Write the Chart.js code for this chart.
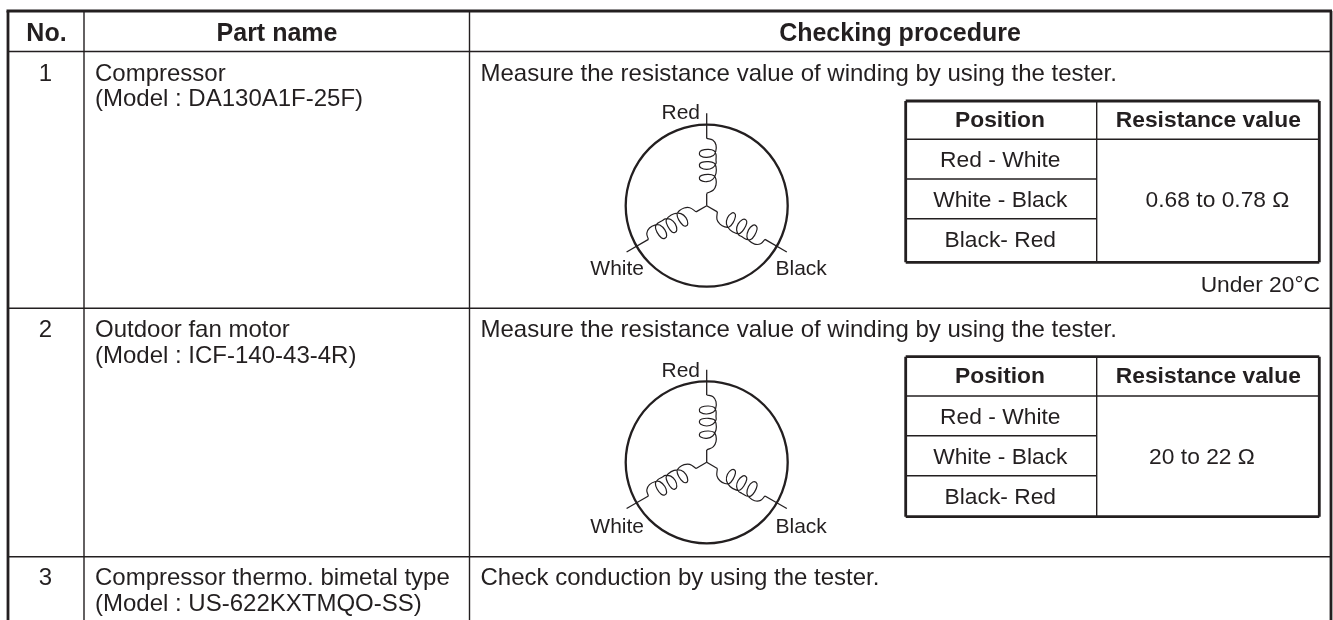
<!DOCTYPE html>
<html><head><meta charset="utf-8">
<style>html,body{margin:0;padding:0;background:#fff}canvas{display:block}</style>
<script src="https://cdn.jsdelivr.net/npm/chart.js@4"></script>
</head><body><canvas id="c" width="1333" height="620"></canvas>
<script>
const INK = '#231f20';
const FONT = '"Liberation Sans"';
const H = 25, B = 24, T = 22.8, L = 21;

// Table rules: [x1, y1, x2, y2]
const heavyRules = [[8,11,8,620],[6.5,11,1332,11],[1331,11,1331,620],
  [905.7,101,1319.3,101],[905.7,262.3,1319.3,262.3],[905.7,101,905.7,262.3],[1319.3,101,1319.3,262.3],
  [905.7,356.7,1319.3,356.7],[905.7,516.7,1319.3,516.7],[905.7,356.7,905.7,516.7],[1319.3,356.7,1319.3,516.7]];
const thinRules = [[84,11,84,620],[469.5,11,469.5,620],[8,51.5,1331,51.5],[8,308.3,1331,308.3],[8,556.7,1331,556.7],
  [1096.7,101,1096.7,262.3],[905.7,139.3,1319.3,139.3],[905.7,179,1096.7,179],[905.7,218.7,1096.7,218.7],
  [1096.7,356.7,1096.7,516.7],[905.7,396,1319.3,396],[905.7,435.7,1096.7,435.7],[905.7,475.7,1096.7,475.7]];

// Motor diagrams
const motorX = [706.7, 706.7];
const motorY = [205.7, 462.3];
const motorRadius = 81;
const branchAngles = [0, 120, 240];
const leadOuter = [[0,-92.5],[0,-67.3]];
const leadInner = [[0,-12.3],[0,0]];
const coilShape = [[0,-67.3],[6,-65.7],[9.3,-60.7],[9,-54],[6.7,-50.3],[0,-48.3],[-6,-49.7],[-7.3,-52.7],[-5,-55.3],[1.7,-56.3],[7.3,-55],[9.3,-51.3],
  [9.3,-45.7],[9.3,-42.3],[6,-38],[0,-36.3],[-6,-38],[-7.3,-41],[-5,-43.3],[1.7,-44],[7.3,-42.7],[9.3,-39],
  [9.3,-32.3],[6,-26.3],[0,-24],[-6,-25.3],[-7.3,-28],[-5,-30.3],[1.7,-31.3],[7.3,-30],[9.3,-26.3],[9.3,-20.7],[6.7,-15.7],[0,-12.3]];

// Text: string, x, baseline, align, bold, size
const textRows = [
 ['No.',46.5,40.7,'center',true,H],['Part name',277,40.7,'center',true,H],['Checking procedure',900,40.7,'center',true,H],
 ['1',45.5,80.5,'center',false,B],['Compressor',95,80.5,'left',false,B],['(Model : DA130A1F-25F)',95,106,'left',false,B],
 ['Measure the resistance value of winding by using the tester.',480.5,80.5,'left',false,B],
 ['Red',700,119.3,'right',false,L],['White',644,275,'right',false,L],['Black',775.5,275,'left',false,L],
 ['Position',1000,127.3,'center',true,T],['Resistance value',1208.3,127.3,'center',true,T],
 ['Red - White',1000.3,166.7,'center',false,T],['White - Black',1000.3,206.7,'center',false,T],['Black- Red',1000.3,246.7,'center',false,T],
 ['0.68 to 0.78 Ω',1217.5,206.7,'center',false,T],['Under 20°C',1320,291.7,'right',false,T],
 ['2',45.5,337.3,'center',false,B],['Outdoor fan motor',95,337.3,'left',false,B],['(Model : ICF-140-43-4R)',95,363,'left',false,B],
 ['Measure the resistance value of winding by using the tester.',480.5,337.3,'left',false,B],
 ['Red',700,376.7,'right',false,L],['White',644,532.7,'right',false,L],['Black',775.5,532.7,'left',false,L],
 ['Position',1000,383.3,'center',true,T],['Resistance value',1208.3,383.3,'center',true,T],
 ['Red - White',1000.3,424,'center',false,T],['White - Black',1000.3,464,'center',false,T],['Black- Red',1000.3,504,'center',false,T],
 ['20 to 22 Ω',1202,464,'center',false,T],
 ['3',45.5,584.5,'center',false,B],['Compressor thermo. bimetal type',95,584.5,'left',false,B],['(Model : US-622KXTMQO-SS)',95,610.5,'left',false,B],
 ['Check conduction by using the tester.',480.5,584.5,'left',false,B]
];

const toPts = s => [{x:s[0],y:s[1]},{x:s[2],y:s[3]}];
const lineSet = (data,w,tension=0) => ({type:'scatter',data,showLine:true,borderColor:INK,borderWidth:w,tension,pointRadius:0,fill:false,clip:false});
const place = (pts,cx,cy,deg) => { const a=deg*Math.PI/180,c=Math.cos(a),s=Math.sin(a);
  return pts.map(p=>({x:cx+p[0]*c-p[1]*s,y:cy+p[0]*s+p[1]*c})); };

const datasets = [];
heavyRules.forEach(r=>datasets.push(lineSet(toPts(r),2.8)));
thinRules.forEach(r=>datasets.push(lineSet(toPts(r),1.4)));
motorX.forEach((cx,i)=>{
  const cy = motorY[i];
  datasets.push({type:'scatter',data:[{x:cx,y:cy}],pointRadius:motorRadius,pointBackgroundColor:'rgba(0,0,0,0)',pointBorderColor:INK,pointBorderWidth:2.3,clip:false});
  branchAngles.forEach(deg=>{
    datasets.push(lineSet(place(leadOuter,cx,cy,deg),1.3));
    datasets.push(lineSet(place(leadInner,cx,cy,deg),1.3));
    datasets.push(lineSet(place(coilShape,cx,cy,deg),1.2,0.4));
  });
});

const tablePlugin = {id:'tableText',afterDatasetsDraw(chart){
  const {ctx,scales:{x,y}} = chart;
  ctx.save(); ctx.fillStyle=INK; ctx.textBaseline='alphabetic';
  textRows.forEach(([t,tx,ty,al,bold,size])=>{
    ctx.font=(bold?'bold ':'')+size+'px '+FONT; ctx.textAlign=al;
    ctx.fillText(t,x.getPixelForValue(tx),y.getPixelForValue(ty));
  });
  ctx.restore();
}};

new Chart(document.getElementById('c'),{
  type:'scatter',
  data:{datasets},
  plugins:[tablePlugin],
  options:{responsive:false,animation:false,
    layout:{padding:0,autoPadding:false},
    plugins:{legend:{display:false},tooltip:{enabled:false},title:{display:false}},
    scales:{x:{type:'linear',display:false,min:0,max:1333},y:{type:'linear',display:false,min:0,max:620,reverse:true}}
  }
});
</script></body></html>
